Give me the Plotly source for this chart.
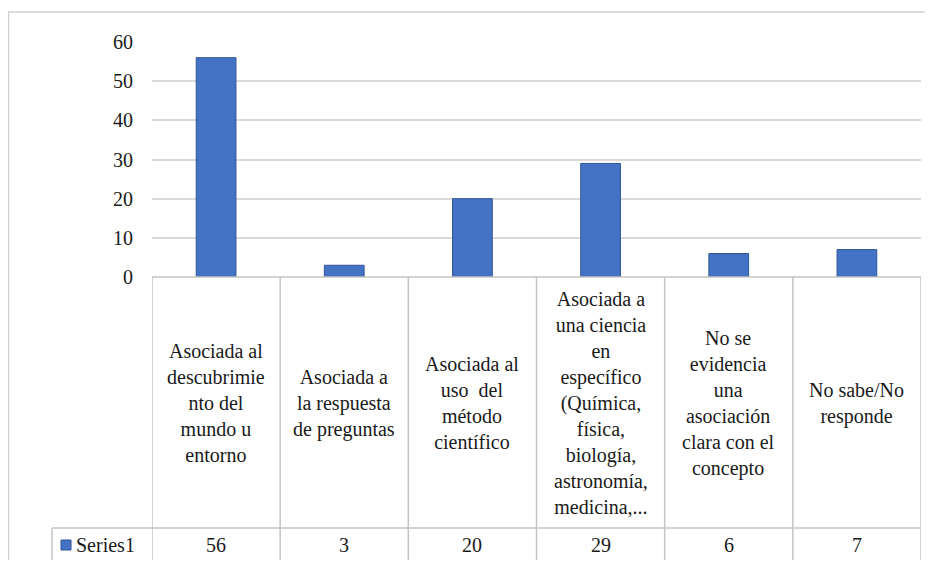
import plotly.graph_objects as go

categories = [
    "Asociada al<br>descubrimie<br>nto del<br>mundo u<br>entorno",
    "Asociada a<br>la respuesta<br>de preguntas",
    "Asociada al<br>uso  del<br>método<br>científico",
    "Asociada a<br>una ciencia<br>en<br>específico<br>(Química,<br>física,<br>biología,<br>astronomía,<br>medicina,...",
    "No se<br>evidencia<br>una<br>asociación<br>clara con el<br>concepto",
    "No sabe/No<br>responde",
]
values = [56, 3, 20, 29, 6, 7]
series_name = "Series1"
y_ticks = [0, 10, 20, 30, 40, 50, 60]

OFF = 8  # page body margin
W, H = 933 - 2 * OFF, 568 - 2 * OFF
L, R, T, B = 152 - OFF, 921 - OFF, 42 - OFF, 277 - OFF
PW, PH = R - L, B - T

def px_x(p):
    return (p - OFF - L) / PW

def px_y(p):
    return (B - (p - OFF)) / PH

FONT = "Times New Roman, Liberation Serif, DejaVu Serif, serif"
TXT = "#1a1a1a"
GRID = "#d9d9d9"
TBL = "#c4c4c4"
BLUE = "#4472C4"

xs = list(range(len(categories)))

fig = go.Figure(go.Bar(
    x=xs, y=values, width=0.31,
    marker=dict(color=BLUE, line=dict(color="#2F5597", width=1)),
    hoverinfo="skip", name=series_name,
))

shapes = []
shapes.append(dict(type="rect", xref="paper", yref="paper",
                   x0=px_x(8.5), x1=px_x(960), y0=px_y(600), y1=px_y(12),
                   line=dict(color="#d0d0d0", width=1.5), layer="below"))
for y_px, x_start in [(277, 152), (528, 52), (562, 52)]:
    shapes.append(dict(type="line", xref="paper", yref="paper",
                       x0=px_x(x_start), x1=px_x(921), y0=px_y(y_px), y1=px_y(y_px),
                       line=dict(color=TBL, width=1.5)))
for i in range(len(categories) + 1):
    shapes.append(dict(type="line", xref="x", yref="paper",
                       x0=i - 0.5, x1=i - 0.5, y0=px_y(277), y1=px_y(562),
                       line=dict(color=TBL, width=1.5)))
shapes.append(dict(type="line", xref="paper", yref="paper",
                   x0=px_x(52), x1=px_x(52), y0=px_y(528), y1=px_y(562),
                   line=dict(color=TBL, width=1.5)))
shapes.append(dict(type="rect", xref="paper", yref="paper",
                   x0=px_x(61), x1=px_x(71), y0=px_y(550), y1=px_y(540),
                   fillcolor=BLUE, line=dict(color="#2F5597", width=1)))

annotations = []
for i, (c, v) in enumerate(zip(categories, values)):
    annotations.append(dict(x=i, xref="x", y=px_y(403), yref="paper",
                            text=c, showarrow=False, xanchor="center", yanchor="middle",
                            align="center", font=dict(family=FONT, size=20, color=TXT)))
    annotations.append(dict(x=i, xref="x", y=px_y(545), yref="paper",
                            text=str(v), showarrow=False, xanchor="center", yanchor="middle",
                            font=dict(family=FONT, size=20, color=TXT)))
annotations.append(dict(x=px_x(74), xref="paper", y=px_y(545), yref="paper",
                        text=series_name, showarrow=False, xanchor="left", yanchor="middle",
                        font=dict(family=FONT, size=20, color=TXT)))

fig.update_layout(
    width=W, height=H,
    margin=dict(l=L, r=W - R, t=T, b=H - B, pad=0),
    paper_bgcolor="white", plot_bgcolor="white",
    showlegend=False,
    font=dict(family=FONT),
    xaxis=dict(range=[-0.5, len(categories) - 0.5], showticklabels=False,
               showgrid=False, zeroline=False, showline=False, ticks=""),
    yaxis=dict(range=[0, 60], tickvals=y_ticks, showgrid=True, gridcolor=GRID, gridwidth=1.5,
               zeroline=False, showline=False, ticks="", ticklabelstandoff=18,
               tickfont=dict(family=FONT, size=20, color=TXT)),
    shapes=shapes, annotations=annotations,
)

fig.write_html("out.html")
